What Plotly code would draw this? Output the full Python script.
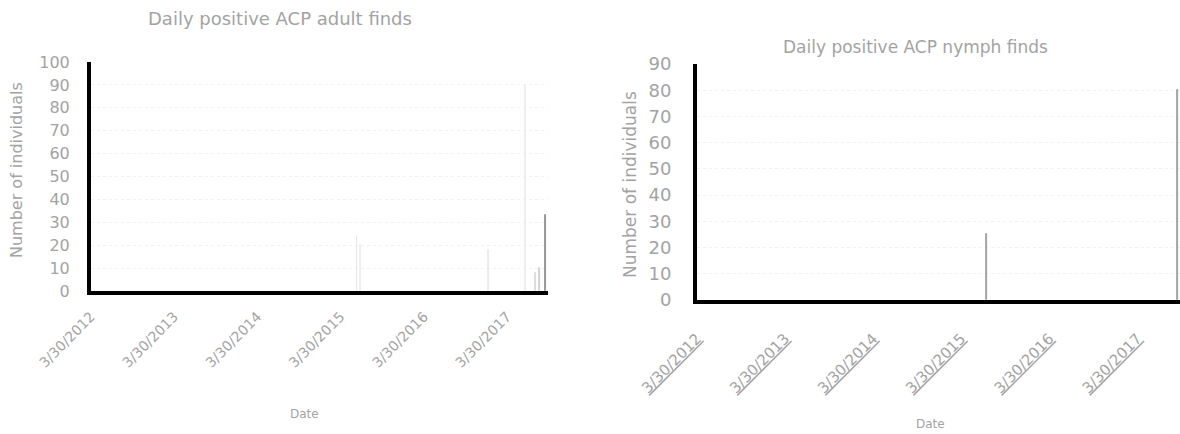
import plotly.graph_objects as go

# ---- data ----
tick_dates = ["2012-03-30", "2013-03-30", "2014-03-30", "2015-03-30", "2016-03-30", "2017-03-30"]
tick_labels = ["3/30/2012", "3/30/2013", "3/30/2014", "3/30/2015", "3/30/2016", "3/30/2017"]

adult_dates = ["2015-06-10", "2015-06-25", "2017-01-05", "2017-06-20", "2017-08-01", "2017-08-20", "2017-09-15"]
adult_values = [24, 20, 18, 90, 8, 10, 33]
adult_colors = ["#e6e6e6", "#ececec", "#e8e8e8", "#ececec", "#d8d8d8", "#cfcfcf", "#8c8c8c"]

nymph_dates = ["2015-07-15", "2017-09-10"]
nymph_values = [25, 80]

x_range_adult = ["2012-03-30", "2017-09-25"]
x_range_nymph = ["2012-03-30", "2017-09-22"]

grey = "#a3a3a3"
font_family = "DejaVu Sans"

fig = go.Figure()

fig.add_trace(go.Bar(x=adult_dates, y=adult_values, xaxis="x", yaxis="y",
                     width=4 * 86400000,
                     marker=dict(color=adult_colors, line=dict(color=adult_colors, width=0.8)),
                     showlegend=False))
fig.add_trace(go.Bar(x=nymph_dates, y=nymph_values, xaxis="x2", yaxis="y2",
                     width=4 * 86400000,
                     marker=dict(color="#9a9a9a", line=dict(color="#9a9a9a", width=0.8)),
                     showlegend=False))

common_x = dict(type="date", tickvals=tick_dates, tickangle=-45, automargin=False,
                showline=True, linecolor="black", linewidth=4, showgrid=False,
                ticks="", zeroline=False)
common_y = dict(showline=True, linecolor="black", linewidth=4, ticks="", zeroline=False,
                automargin=False, showgrid=True, gridcolor="#f1f1f1", griddash="dot", dtick=10)

fig.update_layout(
    width=1180, height=434,
    margin=dict(l=0, r=0, t=0, b=0),
    paper_bgcolor="white", plot_bgcolor="white",
    bargap=0,
    xaxis=dict(domain=[0.0771, 0.4644], anchor="y", range=x_range_adult,
               ticktext=tick_labels, ticklabelstandoff=8,
               tickfont=dict(family=font_family, size=14, color=grey), **common_x),
    yaxis=dict(domain=[0.3295, 0.8571], anchor="x", range=[0, 100], ticklabelstandoff=14,
               tickfont=dict(family=font_family, size=16, color=grey), **common_y),
    xaxis2=dict(domain=[0.5907, 1.0], anchor="y2", range=x_range_nymph,
                ticktext=["<u>" + t + "</u>" for t in tick_labels], ticklabelstandoff=20,
                tickfont=dict(family=font_family, size=15, color=grey), **common_x),
    yaxis2=dict(domain=[0.3088, 0.8525], anchor="x2", range=[0, 90], ticklabelstandoff=18,
                tickfont=dict(family=font_family, size=18, color=grey), **common_y),
)

# annotations placed by pixel positions converted to paper coordinates
W, H = 1180.0, 434.0
texts = [
    ("Daily positive ACP adult finds", 280, 18, 0, 18),
    ("Daily positive ACP nymph finds", 915, 47, 0, 17),
    ("Number of individuals", 16, 170, -90, 16),
    ("Number of individuals", 630, 185, -90, 17),
    ("Date", 304, 414, 0, 12),
    ("Date", 930, 424, 0, 12),
]
for t, px, py, ang, sz in texts:
    fig.add_annotation(text=t, x=px / W, y=1 - py / H, xref="paper", yref="paper",
                       xanchor="center", yanchor="middle", textangle=ang, showarrow=False,
                       font=dict(family=font_family, size=sz, color=grey))

fig.write_html("out.html", config={"displayModeBar": False},
               post_script="document.body.style.margin='0';")
